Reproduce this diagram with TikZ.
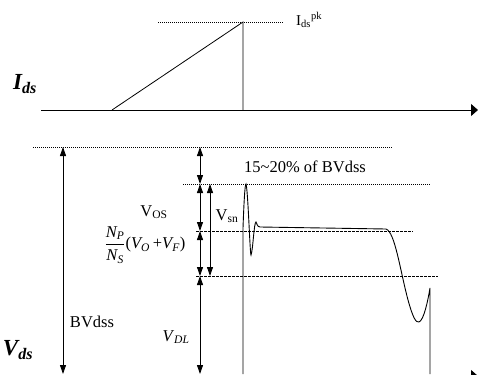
\documentclass[tikz,border=0pt]{standalone}
\usepackage{amsmath}
\usepackage{fontspec}
\setmainfont{Liberation Serif}
\usetikzlibrary{arrows.meta}

\tikzset{
  dotline/.style={dash pattern=on 1pt off 1pt, line width=0.6pt},
  dashline/.style={dash pattern=on 2.5pt off 1.5pt, line width=0.6pt},
  dimarrow/.style={{Triangle[length=9pt,width=6pt]}-{Triangle[length=9pt,width=6pt]}, line width=0.9pt},
  axisline/.style={-{Triangle[length=7pt,width=12pt]}, line width=0.8pt},
  wave/.style={line width=0.9pt},
  lbl/.style={inner sep=0pt, font=\fontsize{16.5}{19}\selectfont},
}

\begin{document}
\begin{tikzpicture}[x=1pt, y=-1pt]
    \useasboundingbox (0,0) rectangle (478,374);
    \clip (0,0) rectangle (478,374);

    % current axis
    \coordinate (ia) at (41,110);
    \coordinate (ib) at (478,110);
    \coordinate (r0) at (112,110);
    \coordinate (pk) at (243,22);
    \coordinate (pb) at (243,110);
    \coordinate (pkl) at (158,22);
    \coordinate (pkr) at (283,22);
    \draw[axisline] (ia) -- (ib);
    \draw[line width=0.8pt] (r0) -- (pk) -- (pb);
    \draw[dotline] (pkl) -- (pkr);
    \node[lbl, anchor=west, font=\fontsize{15}{17}\selectfont] (ipk) at (296,20) {I\textsubscript{ds}\textsuperscript{pk}};
    \node[inner sep=0pt] (ids) at (25,84) {\fontsize{23}{25}\selectfont\bfseries\itshape I\textsubscript{ds}};

    % voltage axis
    \coordinate (va) at (41,376);
    \coordinate (vb) at (478,376);
    \draw[axisline] (va) -- (vb);
    \node[inner sep=0pt] (vds) at (18,350) {\fontsize{23}{25}\selectfont\bfseries\itshape V\textsubscript{ds}};

    % levels
    \coordinate (l1a) at (33,147);  \coordinate (l1b) at (393,147);
    \coordinate (l2a) at (183,184); \coordinate (l2b) at (430,184);
    \coordinate (l3a) at (196,231); \coordinate (l3b) at (413,231);
    \coordinate (l4a) at (196,276); \coordinate (l4b) at (438,276);
    \draw[dotline] (l1a) -- (l1b);
    \draw[dotline] (l2a) -- (l2b);
    \draw[dashline] (l3a) -- (l3b);
    \draw[dashline] (l4a) -- (l4b);

    % dimension arrows
    \coordinate (bv1) at (63,147);  \coordinate (bv2) at (63,374);
    \coordinate (d1) at (200,147);
    \coordinate (d2) at (200,184);
    \coordinate (d3) at (200,231);
    \coordinate (d4) at (200,276);
    \coordinate (d5) at (200,374);
    \coordinate (s1) at (210,184);  \coordinate (s2) at (210,276);
    \draw[dimarrow] (bv1) -- (bv2);
    \draw[dimarrow] (d1) -- (d2);
    \draw[dimarrow] (d2) -- (d3);
    \draw[dimarrow] (d3) -- (d4);
    \draw[dimarrow] (d4) -- (d5);
    \draw[dimarrow] (s1) -- (s2);

    \node[lbl] (bvdss) at (92,322) {BVdss};
    \node[lbl] (vos) at (154,212) {V\textsubscript{OS}};
    \node[lbl] (vsn) at (227,216) {V\textsubscript{sn}};
    \node[lbl] (vdl) at (176,337) {\textit{V}\textsubscript{\textit{DL}}};
    \node[lbl] (refl) at (145,245) {$\dfrac{\textit{N}_{\textit{P}}}{\textit{N}_{\textit{S}}}\text{(}\textit{V}_{\textit{O}}\,\text{+}\textit{V}_{\textit{F}}\text{)}$};
    \node[lbl] (pct) at (305,167) {15\textasciitilde20\% of BVdss};

    % drain voltage waveform
    \draw[wave] (243,374) -- (243,228)
        .. controls (244,200) and (245,184) .. (246,184)
        .. controls (248,190) and (250,255) .. (251,255)
        .. controls (253,250) and (254,222) .. (256,222)
        .. controls (257,223) and (257,227) .. (260,227)
        -- (386,229)
        .. controls (395,232) and (400,270) .. (408,300)
        .. controls (413,318) and (416,323) .. (419,322)
        .. controls (424,320) and (428,300) .. (430,288)
        -- (430,374);
\end{tikzpicture}
\end{document}
